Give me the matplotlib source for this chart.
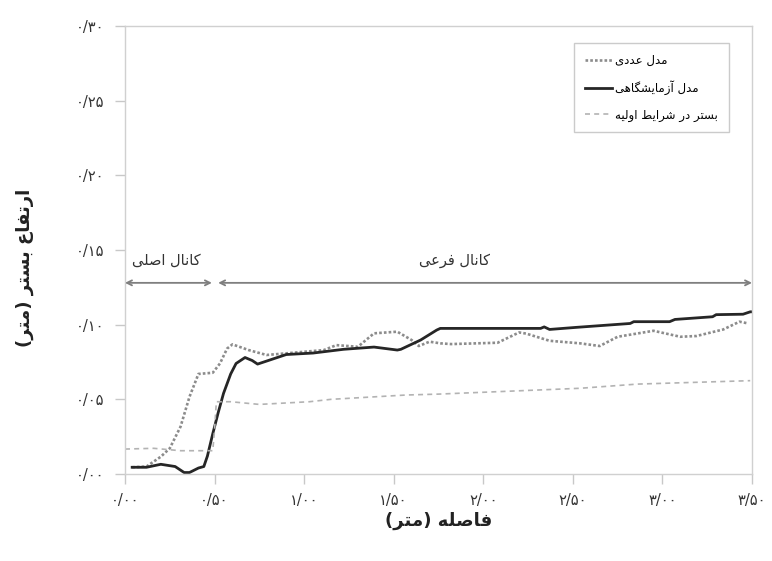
import matplotlib
matplotlib.use("Agg")
import matplotlib.pyplot as plt
from matplotlib.lines import Line2D

# ---------------- data ----------------
lab_x = [0.04, 0.12, 0.20, 0.28, 0.33, 0.36, 0.41, 0.44, 0.46, 0.49, 0.52, 0.55, 0.59, 0.62,
         0.67, 0.71, 0.74, 0.80, 0.90, 1.05, 1.22, 1.39, 1.52, 1.54, 1.65, 1.74, 1.76, 2.32,
         2.34, 2.37, 2.52, 2.82, 2.84, 3.04, 3.07, 3.28, 3.30, 3.45, 3.49, 3.50]
lab_y = [0.0045, 0.0045, 0.0065, 0.005, 0.001, 0.001, 0.004, 0.005, 0.012, 0.027, 0.041, 0.054,
         0.067, 0.074, 0.078, 0.076, 0.0736, 0.076, 0.080, 0.081, 0.0835, 0.085, 0.083, 0.0835,
         0.0897, 0.0964, 0.0975, 0.0975, 0.0985, 0.0968, 0.0982, 0.1008, 0.102, 0.102, 0.1035,
         0.1053, 0.1067, 0.107, 0.1086, 0.1086]

num_x = [0.04, 0.12, 0.20, 0.25, 0.31, 0.36, 0.41, 0.49, 0.53, 0.57, 0.60, 0.69, 0.79, 0.90,
         1.11, 1.18, 1.30, 1.39, 1.52, 1.60, 1.64, 1.70, 1.76, 1.82, 2.08, 2.20, 2.24, 2.37,
         2.54, 2.65, 2.75, 2.95, 3.10, 3.19, 3.34, 3.43, 3.48]
num_y = [0.0045, 0.005, 0.0116, 0.0172, 0.0317, 0.0517, 0.067, 0.0678, 0.074, 0.084, 0.0868,
         0.083, 0.0797, 0.0808, 0.083, 0.0863, 0.0852, 0.0942, 0.0953, 0.0897, 0.0857, 0.0886,
         0.0875, 0.087, 0.0879, 0.0948, 0.094, 0.0892, 0.0875, 0.0857, 0.0919, 0.0959, 0.0919,
         0.0924, 0.0968, 0.102, 0.1008]

bed_x = [0.0, 0.16, 0.31, 0.49, 0.50, 0.51, 0.59, 0.75, 1.03, 1.15, 1.57, 1.75, 2.54, 2.86, 3.49]
bed_y = [0.0167, 0.0172, 0.0156, 0.0156, 0.030, 0.0484, 0.0484, 0.0466, 0.0484, 0.050, 0.0529,
         0.0535, 0.0574, 0.0602, 0.0625]

x_ticks = [0.0, 0.5, 1.0, 1.5, 2.0, 2.5, 3.0, 3.5]
x_tick_labels = ["۰/۰۰", "۰/۵۰", "۱/۰۰", "۱/۵۰", "۲/۰۰", "۲/۵۰", "۳/۰۰", "۳/۵۰"]
y_ticks = [0.0, 0.05, 0.10, 0.15, 0.20, 0.25, 0.30]
y_tick_labels = ["۰/۰۰", "۰/۰۵", "۰/۱۰", "۰/۱۵", "۰/۲۰", "۰/۲۵", "۰/۳۰"]

series_names = ["مدل عددی", "مدل آزمایشگاهی", "بستر در شرایط اولیه"]
x_title = "فاصله (متر)"
y_title = "ارتفاع بستر (متر)"
main_channel = "کانال اصلی"
branch_channel = "کانال فرعی"
main_span = [0.0, 0.485]
branch_span = [0.52, 3.5]
arrow_level = 0.128

# ------------- simple Persian shaping (presentation forms, visual order) -------------
FORMS = {
    'ا': ('\uFE8D', '\uFE8E', None, None),
    'آ': ('\uFE81', '\uFE82', None, None),
    'ب': ('\uFE8F', '\uFE90', '\uFE91', '\uFE92'),
    'ت': ('\uFE95', '\uFE96', '\uFE97', '\uFE98'),
    'د': ('\uFEA9', '\uFEAA', None, None),
    'ر': ('\uFEAD', '\uFEAE', None, None),
    'ز': ('\uFEAF', '\uFEB0', None, None),
    'س': ('\uFEB1', '\uFEB2', '\uFEB3', '\uFEB4'),
    'ش': ('\uFEB5', '\uFEB6', '\uFEB7', '\uFEB8'),
    'ص': ('\uFEB9', '\uFEBA', '\uFEBB', '\uFEBC'),
    'ط': ('\uFEC1', '\uFEC2', '\uFEC3', '\uFEC4'),
    'ع': ('\uFEC9', '\uFECA', '\uFECB', '\uFECC'),
    'ف': ('\uFED1', '\uFED2', '\uFED3', '\uFED4'),
    'ق': ('\uFED5', '\uFED6', '\uFED7', '\uFED8'),
    'ک': ('\uFB8E', '\uFB8F', '\uFB90', '\uFB91'),
    'گ': ('\uFB92', '\uFB93', '\uFB94', '\uFB95'),
    'ل': ('\uFEDD', '\uFEDE', '\uFEDF', '\uFEE0'),
    'م': ('\uFEE1', '\uFEE2', '\uFEE3', '\uFEE4'),
    'ن': ('\uFEE5', '\uFEE6', '\uFEE7', '\uFEE8'),
    'ه': ('\uFEE9', '\uFEEA', '\uFEEB', '\uFEEC'),
    'و': ('\uFEED', '\uFEEE', None, None),
    'ی': ('\uFBFC', '\uFBFD', '\uFBFE', '\uFBFF'),
}


def shape(text):
    out = []
    n = len(text)
    for i, c in enumerate(text):
        if c not in FORMS:
            out.append(c)
            continue
        prev = text[i - 1] if i > 0 else ''
        nxt = text[i + 1] if i < n - 1 else ''
        pj = prev in FORMS and FORMS[prev][2] is not None
        nj = nxt in FORMS and FORMS[c][2] is not None
        iso, fin, ini, med = FORMS[c]
        if pj and nj:
            out.append(med)
        elif pj:
            out.append(fin)
        elif nj:
            out.append(ini)
        else:
            out.append(iso)
    vis = ''.join(reversed(out))
    return vis.translate(str.maketrans({'(': ')', ')': '('}))


plt.rcParams['font.family'] = ['DejaVu Sans']

fig = plt.figure(figsize=(7.72, 5.61), dpi=100)
ax = fig.add_axes([125 / 772, 1 - 474 / 561, 627 / 772, 448 / 561])

ax.plot(num_x, num_y, color='#8c8c8c', lw=1.9, linestyle=(0, (1, 0.8)), label=shape(series_names[0]))
ax.plot(lab_x, lab_y, color='#262626', lw=2.0, label=shape(series_names[1]))
ax.plot(bed_x, bed_y, color='#b3b3b3', lw=1.2, linestyle=(0, (3, 2.5)), label=shape(series_names[2]))

ax.set_xlim(0, 3.5)
ax.set_ylim(0, 0.30)
ax.set_xticks(x_ticks)
ax.set_xticklabels(x_tick_labels)
ax.set_yticks(y_ticks)
ax.set_yticklabels(y_tick_labels)

for s in ax.spines.values():
    s.set_color('#d0d0d0')
    s.set_linewidth(1.0)
ax.tick_params(axis='both', colors='#c8c8c8', length=7, width=1.0, labelcolor='#333333',
               labelsize=10.5)
ax.tick_params(axis='y', pad=8)
ax.tick_params(axis='x', pad=7)

ax.set_xlabel(shape(x_title), fontsize=13, fontweight='bold', color='#222222')
ax.set_ylabel(shape(y_title), fontsize=13, fontweight='bold', color='#222222')
ax.xaxis.set_label_coords(0.5, -0.085)
ax.yaxis.set_label_coords(-0.145, 0.46)

arrow_kw = dict(arrowstyle='<->', color='#7f7f7f', lw=1.3, shrinkA=0, shrinkB=0, mutation_scale=9)
ax.annotate('', xy=(main_span[0], arrow_level), xytext=(main_span[1], arrow_level), arrowprops=arrow_kw)
ax.annotate('', xy=(branch_span[0], arrow_level), xytext=(branch_span[1], arrow_level), arrowprops=arrow_kw)
ax.text(sum(main_span) / 2 - 0.01, 0.143, shape(main_channel), ha='center', va='center',
        fontsize=10.5, color='#333333')
ax.text(1.84, 0.143, shape(branch_channel), ha='center', va='center', fontsize=10.5, color='#333333')

leg = ax.legend(loc='upper left', bbox_to_anchor=(0.716, 0.962), fontsize=8.5, frameon=True,
                fancybox=False, edgecolor='#bfbfbf', handlelength=2.3, handletextpad=0.3,
                labelspacing=1.15, borderpad=0.9, borderaxespad=0)
leg.get_frame().set_linewidth(1.0)

fig.savefig('out.png', dpi=100)
